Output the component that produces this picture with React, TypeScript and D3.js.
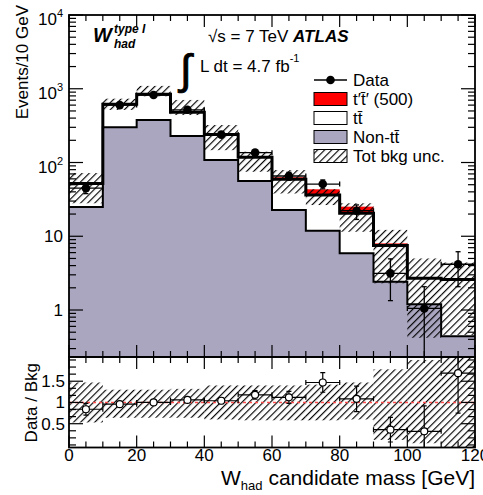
import React from "react";
import * as d3 from "d3";

// ---------------- data ----------------
const binLow = [0, 10, 20, 30, 40, 50, 60, 70, 80, 90, 100, 110];
const binWidth = 10;

const nonTtbar = [25, 300, 377, 229, 108, 56, 22.7, 11.9, 5.87, 2.42, 1.2, 0.44];
const ttbar = [27, 315, 464, 250, 131, 61.6, 36.5, 24.3, 14.63, 5.08, 1.5, 2.16];
const signal = [0, 0, 0, 0, 0, 0, 3.8, 7.1, 4.7, 0.5, 0.1, 0];

const bkgUncLow = [28, 517, 790, 440, 147, 75, 38, 26.5, 11.5, 2.3, 0.42, 0.46];
const bkgUncHigh = [72, 733, 1093, 705, 322, 140, 79, 43.3, 28, 12.2, 5.0, 4.4];

const dataValues = [44.8, 600, 823, 518, 239, 136, 65.6, 51, 22.2, 3.14, 1.05, 4.17];
const dataErrUp = [7, 25, 29, 23, 16, 12, 8, 7, 4.4, 1.8, 1.02, 2.0];
const dataErrDown = [7, 25, 29, 23, 16, 12, 8, 7, 5.3, 1.8, 1.05, 2.1];

const ratioValues = [0.84, 0.96, 1.0, 1.06, 1.04, 1.18, 1.12, 1.47, 1.085, 0.36, 0.32, 1.69];
const ratioErrUp = [0.14, 0.04, 0.04, 0.05, 0.07, 0.1, 0.14, 0.23, 0.3, 0.29, 0.6, 0.38];
const ratioErrDown = [0.14, 0.04, 0.04, 0.05, 0.07, 0.1, 0.14, 0.23, 0.3, 0.29, 0.6, 0.94];
const ratioBandLow = [0.53, 0.64, 0.64, 0.64, 0.6, 0.58, 0.58, 0.58, 0.6, 0.12, 0.04, -0.2];
const ratioBandHigh = [1.47, 1.3, 1.3, 1.32, 1.4, 1.4, 1.4, 1.42, 1.47, 1.78, 2.0, 2.2];

const xTickValues = [0, 20, 40, 60, 80, 100, 120];
const yMajorTicks = [1, 10, 100, 1000, 10000];
const yTickLabels = ["1", "10", "10|2", "10|3", "10|4"];
const ratioTickValues = [0.5, 1, 1.5];
const ratioTickLabels = ["0.5", "1", "1.5"];

const legendLabels = ["Data", "t\u2032t\u0304\u2032 (500)", "tt\u0304", "Non-tt\u0304", "Tot bkg unc."];

// ---------------- component ----------------
const FONT = "'Liberation Sans', Arial, Helvetica, sans-serif";
const GRAY = "#aaa6c0";

export default function App() {
  const W = 483;
  const H = 495;
  const L = 69, R = 475;
  const mainTop = 15, mainBot = 357;
  const ratTop = 357, ratBot = 447.5;

  const yMin = 0.2306;
  const x = d3.scaleLinear().domain([0, 120]).range([L, R]);
  const y = d3.scaleLog().domain([yMin, 10000]).range([mainBot, mainTop]);
  const yr = d3.scaleLinear().domain([-0.06, 2.07]).range([ratBot, ratTop]);
  const yc = (v: number) => y(Math.max(v, yMin * 0.5));

  const rows = binLow.map((b, i) => ({ b, nontt: nonTtbar[i], tt: ttbar[i], sig: signal[i] }));
  const stack = d3.stack<any>().keys(["nontt", "tt", "sig"])(rows);
  const nonTop = stack[0].map((d) => d[1]);
  const totTop = stack[1].map((d) => d[1]);
  const sigTop = stack[2].map((d) => d[1]);

  const stepPath = (vals: number[], sc: (v: number) => number) => {
    let p = `M${x(binLow[0])},${sc(vals[0])}`;
    vals.forEach((v, i) => {
      p += `V${sc(v)}H${x(binLow[i] + binWidth)}`;
    });
    return p;
  };
  const stepArea = (vals: number[]) =>
    `M${x(0)},${mainBot}` + stepPath(vals, yc).replace(/^M[^V]*/, "") + `V${mainBot}Z`;

  // ticks
  const xMinor = d3.range(0, 121, 5);
  const yMinor: { v: number; major: boolean }[] = [];
  for (let e = -1; e <= 4; e++) {
    for (let m = 1; m <= 9; m++) {
      const v = m * Math.pow(10, e);
      if (v >= yMin && v <= 10000.0001) yMinor.push({ v, major: m === 1 });
    }
  }
  const rMinor = d3.range(0, 13).map((k) => k / 6).filter((v) => v <= 2.07);

  const tickStroke = { stroke: "#000", strokeWidth: 1.2 };

  const xTicks = (yEdge: number, dir: number, key: string) =>
    xMinor.map((v) => {
      const major = v % 20 === 0;
      const len = major ? 12 : 6;
      return (
        <line key={key + v} x1={x(v)} x2={x(v)} y1={yEdge} y2={yEdge + dir * len} {...tickStroke} />
      );
    });

  const legendX = 314, legendW = 33;
  const legendY = [80, 99, 118, 137, 156];

  return (
    <svg
      width={W}
      height={H}
      style={{ position: "absolute", left: 0, top: 0, background: "#fff" }}
      fontFamily={FONT}
    >
      <defs>
        <pattern id="hatch" width="5" height="5" patternUnits="userSpaceOnUse" patternTransform="rotate(45)">
          <line x1="0.6" y1="0" x2="0.6" y2="5" stroke="#000" strokeWidth="1.15" />
        </pattern>
        <clipPath id="clipMain">
          <rect x={L} y={mainTop} width={R - L} height={mainBot - mainTop} />
        </clipPath>
        <clipPath id="clipRatio">
          <rect x={L} y={ratTop} width={R - L} height={ratBot - ratTop} />
        </clipPath>
      </defs>
      <rect x={0} y={0} width={W} height={H} fill="#fff" />

      {/* ---------- main panel ---------- */}
      <g clipPath="url(#clipMain)">
        <path d={stepArea(nonTop)} fill={GRAY} />
        {binLow.map((b, i) =>
          signal[i] > 0 ? (
            <rect
              key={"sig" + i}
              x={x(b)}
              width={x(b + binWidth) - x(b)}
              y={yc(sigTop[i])}
              height={yc(totTop[i]) - yc(sigTop[i])}
              fill="#ff0000"
            />
          ) : null
        )}
        <path d={stepPath(nonTop, yc)} fill="none" stroke="#000" strokeWidth={2} />
        <path d={stepPath(totTop, yc)} fill="none" stroke="#000" strokeWidth={3} />
        {binLow.map((b, i) => (
          <rect
            key={"unc" + i}
            x={x(b)}
            width={x(b + binWidth) - x(b)}
            y={yc(bkgUncHigh[i])}
            height={yc(bkgUncLow[i]) - yc(bkgUncHigh[i])}
            fill="url(#hatch)"
          />
        ))}
        {binLow.map((b, i) => {
          const cx = x(b + binWidth / 2);
          const cy = yc(dataValues[i]);
          const yu = yc(dataValues[i] + dataErrUp[i]);
          const yd = yc(Math.max(dataValues[i] - dataErrDown[i], 1e-3));
          return (
            <g key={"dat" + i} stroke="#000" strokeWidth={1.3}>
              <line x1={x(b)} x2={x(b + binWidth)} y1={cy} y2={cy} />
              <line x1={x(b)} x2={x(b)} y1={cy - 2.5} y2={cy + 2.5} />
              <line x1={x(b + binWidth)} x2={x(b + binWidth)} y1={cy - 2.5} y2={cy + 2.5} />
              <line x1={cx} x2={cx} y1={yu} y2={yd} />
              <line x1={cx - 2.5} x2={cx + 2.5} y1={yu} y2={yu} />
              <line x1={cx - 2.5} x2={cx + 2.5} y1={yd} y2={yd} />
              <circle cx={cx} cy={cy} r={4.3} fill="#000" stroke="none" />
            </g>
          );
        })}
      </g>

      {/* main axes ticks */}
      {xTicks(mainBot, -1, "mb")}
      {xTicks(mainTop, 1, "mt")}
      {yMinor.map((t, i) => (
        <g key={"ym" + i}>
          <line x1={L} x2={L + (t.major ? 14 : 7)} y1={y(t.v)} y2={y(t.v)} {...tickStroke} />
          <line x1={R} x2={R - (t.major ? 14 : 7)} y1={y(t.v)} y2={y(t.v)} {...tickStroke} />
        </g>
      ))}
      <rect x={L} y={mainTop} width={R - L} height={mainBot - mainTop} fill="none" stroke="#000" strokeWidth={1.8} />

      {yMajorTicks.map((v, i) => {
        const lab = yTickLabels[i];
        const ty = y(v);
        if (lab.includes("|")) {
          const [base, exp] = lab.split("|");
          return (
            <text key={"yl" + i} x={63} y={ty + 10} textAnchor="end" fontSize={17}>
              {base}
              <tspan dy={-8} fontSize={11}>{exp}</tspan>
            </text>
          );
        }
        return (
          <text key={"yl" + i} x={63} y={ty + 6} textAnchor="end" fontSize={17}>
            {lab}
          </text>
        );
      })}

      {/* ---------- ratio panel ---------- */}
      <g clipPath="url(#clipRatio)">
        {binLow.map((b, i) => (
          <rect
            key={"rb" + i}
            x={x(b)}
            width={x(b + binWidth) - x(b)}
            y={yr(ratioBandHigh[i])}
            height={yr(ratioBandLow[i]) - yr(ratioBandHigh[i])}
            fill="url(#hatch)"
          />
        ))}
        <line x1={L} x2={R} y1={yr(1)} y2={yr(1)} stroke="#ff4d4d" strokeWidth={1.5} strokeDasharray="3,3" />
        {binLow.map((b, i) => {
          const cx = x(b + binWidth / 2);
          const cy = yr(ratioValues[i]);
          const yu = yr(ratioValues[i] + ratioErrUp[i]);
          const yd = yr(ratioValues[i] - ratioErrDown[i]);
          return (
            <g key={"rd" + i} stroke="#000" strokeWidth={1.2}>
              <line x1={x(b)} x2={x(b + binWidth)} y1={cy} y2={cy} />
              <line x1={x(b)} x2={x(b)} y1={cy - 2.5} y2={cy + 2.5} />
              <line x1={x(b + binWidth)} x2={x(b + binWidth)} y1={cy - 2.5} y2={cy + 2.5} />
              <line x1={cx} x2={cx} y1={yu} y2={yd} />
              <line x1={cx - 2.5} x2={cx + 2.5} y1={yu} y2={yu} />
              <line x1={cx - 2.5} x2={cx + 2.5} y1={yd} y2={yd} />
              <circle cx={cx} cy={cy} r={3.5} fill="#fff" />
            </g>
          );
        })}
      </g>
      {xTicks(ratBot, -1, "rb")}
      {xTicks(ratTop, 1, "rt")}
      {rMinor.map((v, i) => {
        const major = Math.abs(v * 2 - Math.round(v * 2)) < 1e-6 && v > 0.1 && v < 1.9;
        const len = major ? 14 : 7;
        return (
          <g key={"rm" + i}>
            <line x1={L} x2={L + len} y1={yr(v)} y2={yr(v)} {...tickStroke} />
            <line x1={R} x2={R - len} y1={yr(v)} y2={yr(v)} {...tickStroke} />
          </g>
        );
      })}
      <rect x={L} y={ratTop} width={R - L} height={ratBot - ratTop} fill="none" stroke="#000" strokeWidth={1.8} />
      {ratioTickValues.map((v, i) => (
        <text key={"rl" + i} x={65} y={yr(v) + 6} textAnchor="end" fontSize={17}>
          {ratioTickLabels[i]}
        </text>
      ))}

      {/* x tick labels */}
      {xTickValues.map((v) => (
        <text key={"xl" + v} x={x(v)} y={461} textAnchor="middle" fontSize={17}>
          {v}
        </text>
      ))}

      {/* axis titles */}
      <text x={475} y={485} textAnchor="end" fontSize={21}>
        W<tspan dy={5} fontSize={13}>had</tspan>
        <tspan dy={-5}> candidate mass [GeV]</tspan>
      </text>
      <text transform="translate(28,5) rotate(-90)" textAnchor="end" fontSize={17}>
        Events/10 GeV
      </text>
      <text transform="translate(37,363) rotate(-90)" textAnchor="end" fontSize={17}>
        Data / Bkg
      </text>

      {/* annotations */}
      <text x={93} y={42} fontSize={20} fontWeight="bold" fontStyle="italic">W</text>
      <text x={114} y={33} fontSize={12} fontWeight="bold" fontStyle="italic">type I</text>
      <text x={114} y={48} fontSize={12} fontWeight="bold" fontStyle="italic">had</text>
      <text x={208} y={42} fontSize={17}>
        {"\u221As = 7 TeV "}
        <tspan fontWeight="bold" fontStyle="italic">ATLAS</tspan>
      </text>
      <text x={180} y={84} fontSize={42} stroke="#000" strokeWidth={0.9}>{"\u222B"}</text>
      <text x={200} y={72} fontSize={17}>
        L dt = 4.7 fb<tspan dy={-10} fontSize={11}>-1</tspan>
      </text>

      {/* legend */}
      <g>
        <line x1={legendX} x2={legendX + legendW} y1={legendY[0]} y2={legendY[0]} stroke="#000" strokeWidth={1.5} />
        <circle cx={legendX + legendW / 2} cy={legendY[0]} r={4.3} fill="#000" />
        <rect x={legendX} y={legendY[1] - 6.5} width={legendW} height={13} fill="#ff0000" stroke="#000" strokeWidth={1} />
        <rect x={legendX} y={legendY[2] - 6.5} width={legendW} height={13} fill="#fff" stroke="#000" strokeWidth={1} />
        <rect x={legendX} y={legendY[3] - 6.5} width={legendW} height={13} fill={GRAY} stroke="#000" strokeWidth={1} />
        <rect x={legendX} y={legendY[4] - 6.5} width={legendW} height={13} fill="url(#hatch)" stroke="#000" strokeWidth={1} />
        {legendLabels.map((lab, i) => (
          <text key={"lg" + i} x={legendX + legendW + 6} y={legendY[i] + 6} fontSize={17}>
            {lab}
          </text>
        ))}
      </g>
    </svg>
  );
}
